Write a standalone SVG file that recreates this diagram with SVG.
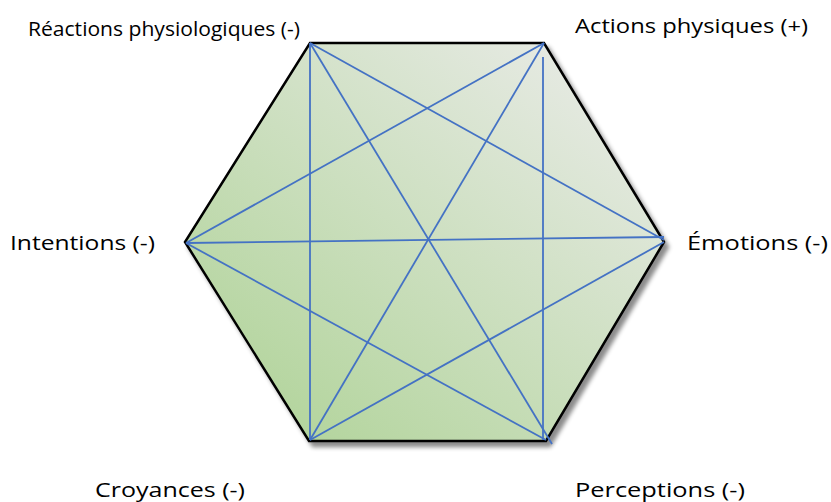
<svg xmlns="http://www.w3.org/2000/svg" width="831" height="502" viewBox="0 0 831 502">
<defs>
<linearGradient id="g" x1="310" y1="441" x2="620" y2="60" gradientUnits="userSpaceOnUse">
<stop offset="0" stop-color="#b4d59e"/>
<stop offset="1" stop-color="#e9ebe7"/>
</linearGradient>
<filter id="sh" x="-10%" y="-10%" width="125%" height="125%">
<feDropShadow dx="4" dy="5" stdDeviation="2" flood-color="#000" flood-opacity="0.45"/>
</filter>
</defs>
<style>
.lbl{font-family:"Open Sans","Liberation Sans",sans-serif;font-size:20px;fill:#000}
.c{stroke:#4472c4;stroke-width:1.8;fill:none}
</style>
<g id="hexagon">
<polygon points="310,43 544,43 664,242 546,441 309,441 185,242" fill="url(#g)" stroke="#000" stroke-width="2.5" stroke-linejoin="miter" filter="url(#sh)"/>
</g>
<g id="connectors">
<line class="c" x1="310" y1="43" x2="310" y2="440"/>
<line class="c" x1="310" y1="43" x2="552" y2="444"/>
<line class="c" x1="310" y1="43" x2="664" y2="240"/>
<line class="c" x1="544" y1="43" x2="186" y2="243"/>
<line class="c" x1="544" y1="43" x2="310" y2="440"/>
<line class="c" x1="543" y1="57" x2="543" y2="440"/>
<line class="c" x1="186" y1="243" x2="664" y2="237"/>
<line class="c" x1="186" y1="243" x2="546" y2="440"/>
<line class="c" x1="310" y1="440" x2="664" y2="242"/>
</g>
<g id="node-reactions"><text class="lbl" x="28" y="36" textLength="272" lengthAdjust="spacingAndGlyphs">Réactions physiologiques (-)</text></g>
<g id="node-actions"><text class="lbl" x="575" y="33" textLength="233" lengthAdjust="spacingAndGlyphs">Actions physiques (+)</text></g>
<g id="node-intentions"><text class="lbl" x="10" y="250" textLength="145" lengthAdjust="spacingAndGlyphs">Intentions (-)</text></g>
<g id="node-emotions"><text class="lbl" x="687" y="250" textLength="141" lengthAdjust="spacingAndGlyphs">Émotions (-)</text></g>
<g id="node-croyances"><text class="lbl" x="95" y="497" textLength="150" lengthAdjust="spacingAndGlyphs">Croyances (-)</text></g>
<g id="node-perceptions"><text class="lbl" x="575" y="497" textLength="170" lengthAdjust="spacingAndGlyphs">Perceptions (-)</text></g>
</svg>
